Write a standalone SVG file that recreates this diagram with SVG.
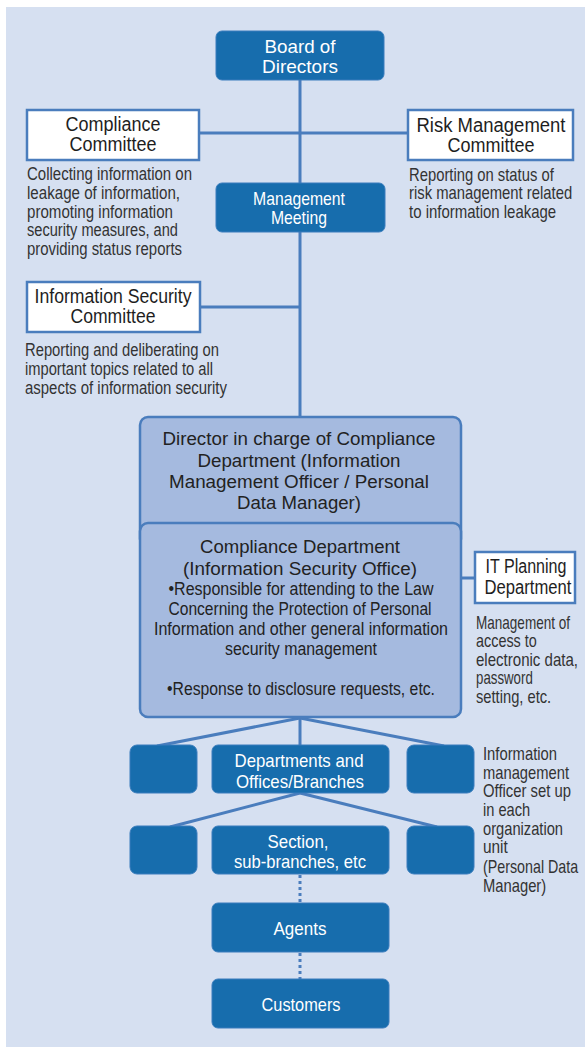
<svg xmlns="http://www.w3.org/2000/svg" width="585" height="1047" viewBox="0 0 585 1047">
<style>
text{font-family:"Liberation Sans Narrow","Liberation Sans",Arial,sans-serif}
.dark{fill:#176dad;stroke:#3a7dbd;stroke-width:1}
.white{fill:#ffffff;stroke:#4a7dbd;stroke-width:2.5}
.light{fill:#a5badf;stroke:#4a7dbd;stroke-width:2.5}
.wt{fill:#ffffff;font-size:19px;text-anchor:middle}
.bt{fill:#1e1e1e;font-size:19.5px;text-anchor:middle}
.ds{fill:#333333;font-size:17.5px}
.dc{fill:#222222;font-size:17.5px;text-anchor:middle}
.con{stroke:#4a7dbd;stroke-width:3;fill:none}
.dot{stroke:#4a7dbd;stroke-width:3;fill:none;stroke-dasharray:3 3}
</style>
<rect x="6" y="7" width="579" height="1040" fill="#d6e0f1"/>
<g id="connectors">
<line class="con" x1="300" y1="80" x2="300" y2="418"/>
<line class="con" x1="199" y1="133" x2="408" y2="133"/>
<line class="con" x1="199" y1="307" x2="300" y2="307"/>
<line class="con" x1="460" y1="578" x2="476" y2="578"/>
<line class="con" x1="300" y1="716" x2="300" y2="746"/>
<line class="con" x1="300" y1="718" x2="157" y2="746"/>
<line class="con" x1="300" y1="718" x2="444" y2="746"/>
<line class="con" x1="300" y1="793" x2="170" y2="827"/>
<line class="con" x1="300" y1="793" x2="437" y2="827"/>
<line class="dot" x1="300" y1="875" x2="300" y2="903"/>
<line class="dot" x1="300" y1="953" x2="300" y2="979"/>
</g>
<g id="board">
<rect class="dark" x="216" y="31" width="168" height="49" rx="6"/>
<text class="wt" x="300" y="53" textLength="71" lengthAdjust="spacingAndGlyphs">Board of</text>
<text class="wt" x="300" y="73" textLength="76" lengthAdjust="spacingAndGlyphs">Directors</text>
</g>
<g id="compliance-committee">
<rect class="white" x="27" y="110" width="172" height="50"/>
<text class="bt" x="113" y="131" textLength="95" lengthAdjust="spacingAndGlyphs">Compliance</text>
<text class="bt" x="113" y="151" textLength="87" lengthAdjust="spacingAndGlyphs">Committee</text>
<text class="ds" x="27" y="180" textLength="165" lengthAdjust="spacingAndGlyphs">Collecting information on</text>
<text class="ds" x="27" y="199" textLength="153" lengthAdjust="spacingAndGlyphs">leakage of information,</text>
<text class="ds" x="27" y="217.5" textLength="146" lengthAdjust="spacingAndGlyphs">promoting information</text>
<text class="ds" x="27" y="236" textLength="151" lengthAdjust="spacingAndGlyphs">security measures, and</text>
<text class="ds" x="27" y="255" textLength="155" lengthAdjust="spacingAndGlyphs">providing status reports</text>
</g>
<g id="risk-committee">
<rect class="white" x="408" y="110" width="165" height="50"/>
<text class="bt" x="491" y="132" textLength="149" lengthAdjust="spacingAndGlyphs">Risk Management</text>
<text class="bt" x="491" y="152" textLength="87" lengthAdjust="spacingAndGlyphs">Committee</text>
<g transform="translate(409,0) scale(0.8,1)">
<text class="ds" x="0" y="181" textLength="181" lengthAdjust="spacingAndGlyphs">Reporting on status of</text>
<text class="ds" x="0" y="199.5" textLength="204" lengthAdjust="spacingAndGlyphs">risk management related</text>
<text class="ds" x="0" y="218" textLength="184" lengthAdjust="spacingAndGlyphs">to information leakage</text>
</g>
</g>
<g id="management-meeting">
<rect class="dark" x="216" y="183" width="169" height="49" rx="6"/>
<text class="wt" x="299" y="205" font-size="18" textLength="92" lengthAdjust="spacingAndGlyphs">Management</text>
<text class="wt" x="299" y="224" font-size="18" textLength="56" lengthAdjust="spacingAndGlyphs">Meeting</text>
</g>
<g id="infosec-committee">
<rect class="white" x="27" y="282" width="173" height="50"/>
<text class="bt" x="113" y="303" textLength="157" lengthAdjust="spacingAndGlyphs">Information Security</text>
<text class="bt" x="113" y="323" textLength="85" lengthAdjust="spacingAndGlyphs">Committee</text>
<text class="ds" x="25" y="356" textLength="194" lengthAdjust="spacingAndGlyphs">Reporting and deliberating on</text>
<text class="ds" x="25" y="375" textLength="188" lengthAdjust="spacingAndGlyphs">important topics related to all</text>
<text class="ds" x="25" y="394" textLength="202" lengthAdjust="spacingAndGlyphs">aspects of information security</text>
</g>
<g id="director">
<rect class="light" x="140" y="417" width="321" height="130" rx="8"/>
<text class="dc" x="299" y="445" font-size="19.5" textLength="273" lengthAdjust="spacingAndGlyphs">Director in charge of Compliance</text>
<text class="dc" x="299" y="467" font-size="19.5" textLength="203" lengthAdjust="spacingAndGlyphs">Department (Information</text>
<text class="dc" x="299" y="488" font-size="19.5" textLength="260" lengthAdjust="spacingAndGlyphs">Management Officer / Personal</text>
<text class="dc" x="299" y="509" font-size="19.5" textLength="124" lengthAdjust="spacingAndGlyphs">Data Manager)</text>
</g>
<g id="compliance-dept">
<rect class="light" x="140" y="523" width="321" height="194" rx="8"/>
<text class="dc" x="300" y="553" font-size="19.5" textLength="200" lengthAdjust="spacingAndGlyphs">Compliance Department</text>
<text class="dc" x="300" y="575" font-size="19.5" textLength="234" lengthAdjust="spacingAndGlyphs">(Information Security Office)</text>
<text class="dc" x="301" y="595" textLength="265" lengthAdjust="spacingAndGlyphs">•Responsible for attending to the Law</text>
<text class="dc" x="300" y="615" textLength="263" lengthAdjust="spacingAndGlyphs">Concerning the Protection of Personal</text>
<text class="dc" x="301" y="635" textLength="294" lengthAdjust="spacingAndGlyphs">Information and other general information</text>
<text class="dc" x="301" y="655" textLength="152" lengthAdjust="spacingAndGlyphs">security management</text>
<text class="dc" x="301" y="695" textLength="268" lengthAdjust="spacingAndGlyphs">•Response to disclosure requests, etc.</text>
</g>
<g id="it-planning">
<rect class="white" x="475" y="552" width="100" height="51"/>
<text class="bt" x="526" y="573" textLength="81" lengthAdjust="spacingAndGlyphs">IT Planning</text>
<text class="bt" x="528" y="594" textLength="87" lengthAdjust="spacingAndGlyphs">Department</text>
<g transform="translate(476,0) scale(0.8,1)">
<text class="ds" x="0" y="629" textLength="117.5" lengthAdjust="spacingAndGlyphs">Management of</text>
<text class="ds" x="0" y="647.5" textLength="76" lengthAdjust="spacingAndGlyphs">access to</text>
<text class="ds" x="0" y="666" textLength="127.5" lengthAdjust="spacingAndGlyphs">electronic data,</text>
<text class="ds" x="0" y="684.5" textLength="71" lengthAdjust="spacingAndGlyphs">password</text>
<text class="ds" x="0" y="703" textLength="94" lengthAdjust="spacingAndGlyphs">setting, etc.</text>
</g>
</g>
<g id="unit-left-1"><rect class="dark" x="130" y="745" width="67" height="48" rx="7"/></g>
<g id="departments">
<rect class="dark" x="212" y="745" width="177" height="48" rx="6"/>
<text class="wt" x="299" y="767" textLength="129" lengthAdjust="spacingAndGlyphs">Departments and</text>
<text class="wt" x="300" y="788" textLength="128" lengthAdjust="spacingAndGlyphs">Offices/Branches</text>
</g>
<g id="unit-right-1"><rect class="dark" x="407" y="745" width="67" height="48" rx="7"/></g>
<g id="unit-left-2"><rect class="dark" x="130" y="826" width="67" height="48" rx="7"/></g>
<g id="section">
<rect class="dark" x="212" y="826" width="177" height="48" rx="6"/>
<text class="wt" x="298" y="848" textLength="61" lengthAdjust="spacingAndGlyphs">Section,</text>
<text class="wt" x="300" y="868" textLength="132" lengthAdjust="spacingAndGlyphs">sub-branches, etc</text>
</g>
<g id="unit-right-2"><rect class="dark" x="407" y="826" width="67" height="48" rx="7"/></g>
<g id="officer-note" transform="translate(483,0) scale(0.8,1)">
<text class="ds" x="0" y="760" textLength="92.5" lengthAdjust="spacingAndGlyphs">Information</text>
<text class="ds" x="0" y="779" textLength="107.5" lengthAdjust="spacingAndGlyphs">management</text>
<text class="ds" x="0" y="797.5" textLength="110" lengthAdjust="spacingAndGlyphs">Officer set up</text>
<text class="ds" x="0" y="816" textLength="59" lengthAdjust="spacingAndGlyphs">in each</text>
<text class="ds" x="0" y="835" textLength="100" lengthAdjust="spacingAndGlyphs">organization</text>
<text class="ds" x="0" y="853.5" textLength="31" lengthAdjust="spacingAndGlyphs">unit</text>
<text class="ds" x="0" y="873" textLength="119" lengthAdjust="spacingAndGlyphs">(Personal Data</text>
<text class="ds" x="0" y="892" textLength="79" lengthAdjust="spacingAndGlyphs">Manager)</text>
</g>
<g id="agents">
<rect class="dark" x="212" y="903" width="177" height="49" rx="6"/>
<text class="wt" x="300" y="935" textLength="53" lengthAdjust="spacingAndGlyphs">Agents</text>
</g>
<g id="customers">
<rect class="dark" x="212" y="979" width="177" height="49" rx="6"/>
<text class="wt" x="301" y="1011" textLength="79" lengthAdjust="spacingAndGlyphs">Customers</text>
</g>
</svg>
